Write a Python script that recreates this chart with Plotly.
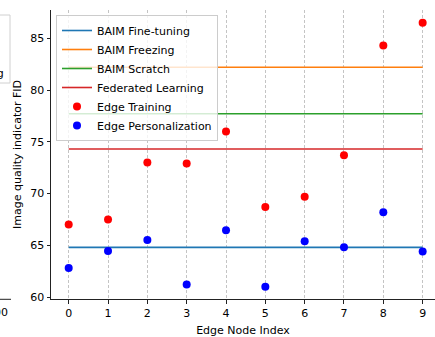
import plotly.graph_objects as go

# ---- data ----
nodes = list(range(10))
edge_training = [67.0, 67.5, 73.0, 72.9, 76.0, 68.7, 69.7, 73.7, 84.3, 86.5]
edge_personalization = [62.8, 64.45, 65.5, 61.2, 66.45, 61.0, 65.4, 64.8, 68.2, 64.4]
baim_finetuning = 64.8
baim_freezing = 82.2
baim_scratch = 77.7
federated_learning = 74.3
x_ticks = list(range(10))
y_ticks = [60, 65, 70, 75, 80, 85]

FONT = "DejaVu Sans"
W, H = 435, 337
ML, MR, MT, MB = 51, 0, 10, 38
PW = W - ML - MR
PH = H - MT - MB


def px_x(p):
    return (p - ML) / PW


def px_y(p):
    return (H - MB - p) / PH


fig = go.Figure()

lines = [
    ("BAIM Fine-tuning", baim_finetuning, "#1f77b4"),
    ("BAIM Freezing", baim_freezing, "#ff7f0e"),
    ("BAIM Scratch", baim_scratch, "#2ca02c"),
    ("Federated Learning", federated_learning, "#d62728"),
]
for name, val, col in lines:
    fig.add_trace(go.Scatter(
        x=nodes, y=[val] * len(nodes), mode="lines", name=name,
        line=dict(color=col, width=1.6),
    ))

fig.add_trace(go.Scatter(
    x=nodes, y=edge_training, mode="markers", name="Edge Training",
    marker=dict(color="#ff0000", size=8, line=dict(width=0)),
))
fig.add_trace(go.Scatter(
    x=nodes, y=edge_personalization, mode="markers", name="Edge Personalization",
    marker=dict(color="#0000ff", size=8, line=dict(width=0)),
))

# fragment of the neighbouring panel on the left edge
fig.add_shape(type="rect", xref="paper", yref="paper",
              x0=px_x(-30), x1=px_x(10), y0=px_y(83), y1=px_y(15),
              line=dict(color="#d0d0d0", width=1), fillcolor="rgba(255,255,255,0)")
fig.add_shape(type="line", xref="paper", yref="paper",
              x0=px_x(-5), x1=px_x(11), y0=px_y(299.3), y1=px_y(299.3),
              line=dict(color="#222222", width=1))
fig.add_annotation(xref="paper", yref="paper", x=px_x(6), y=px_y(74),
                   text="Learning", showarrow=False, xanchor="right", yanchor="middle",
                   font=dict(family=FONT, size=11, color="#000000"))
fig.add_annotation(xref="paper", yref="paper", x=px_x(9.5), y=px_y(312),
                   text="200", showarrow=False, xanchor="right", yanchor="middle",
                   font=dict(family=FONT, size=11, color="#000000"))

fig.update_layout(
    width=W, height=H,
    margin=dict(l=ML, r=MR, t=MT, b=MB, pad=0, autoexpand=False),
    paper_bgcolor="white", plot_bgcolor="white",
    font=dict(family=FONT, size=11, color="#000000"),
    showlegend=True,
    legend=dict(
        x=px_x(56), y=px_y(15), xanchor="left", yanchor="top",
        bgcolor="rgba(255,255,255,0.8)", bordercolor="#cccccc", borderwidth=1,
        font=dict(family=FONT, size=11, color="#000000"),
        itemwidth=30,
    ),
    xaxis=dict(
        range=[-0.45, 9.314], tickmode="array", tickvals=x_ticks,
        ticktext=[str(t) for t in x_ticks], automargin=False,
        showgrid=True, gridcolor="#c4c4c4", gridwidth=0.9, griddash="3px,2px",
        zeroline=False, showline=True, linecolor="#222222", linewidth=1,
        ticks="outside", ticklen=3.5, tickwidth=1, tickcolor="#222222",
        tickfont=dict(family=FONT, size=11, color="#000000"),
        title=dict(text="Edge Node Index", standoff=7,
                   font=dict(family=FONT, size=11, color="#000000")),
    ),
    yaxis=dict(
        range=[59.81, 87.73], tickmode="array", tickvals=y_ticks,
        ticktext=[str(t) for t in y_ticks], automargin=False,
        showgrid=False, zeroline=False, showline=True, linecolor="#222222", linewidth=1,
        ticks="outside", ticklen=3.5, tickwidth=1, tickcolor="#222222",
        tickfont=dict(family=FONT, size=11, color="#000000"),
        title=dict(text="Image quality indicator FID", standoff=6,
                   font=dict(family=FONT, size=11, color="#000000")),
    ),
)

fig.write_html(
    "out.html",
    config={"displayModeBar": False},
    post_script="document.body.style.margin='0';document.body.style.padding='0';"
                "document.documentElement.style.overflow='hidden';",
)
